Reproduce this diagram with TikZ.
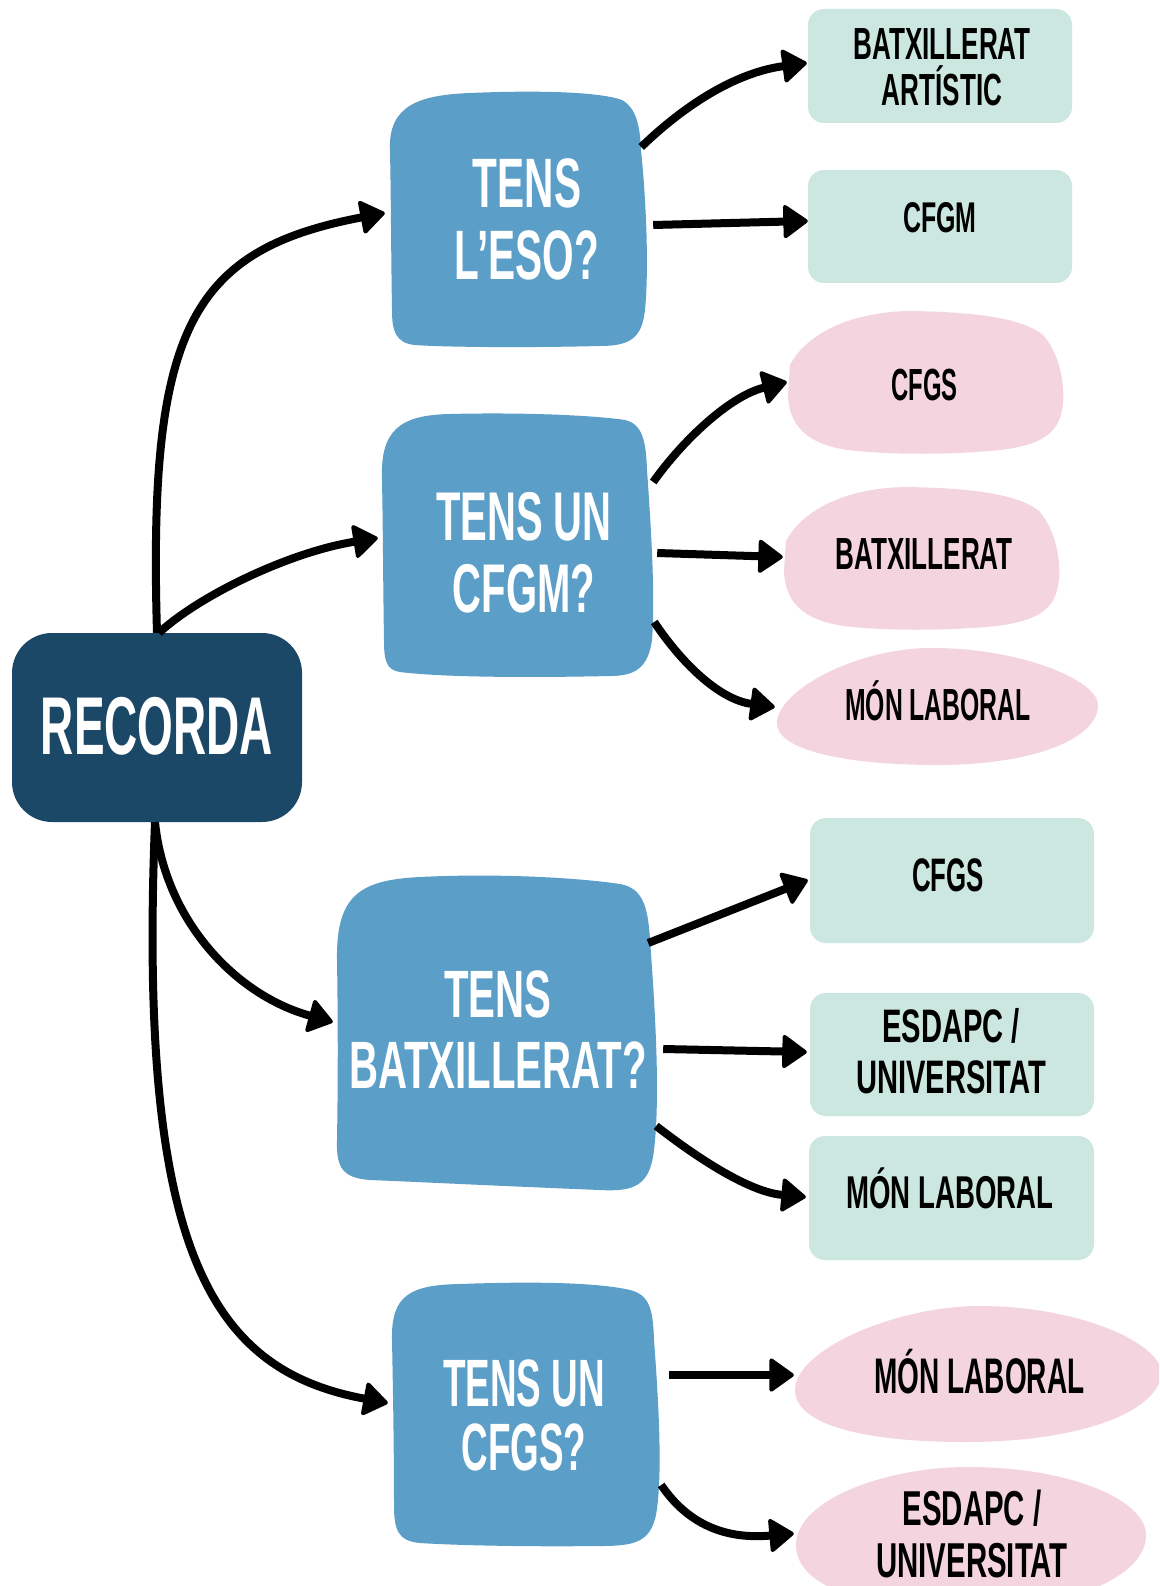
\documentclass[tikz,border=0pt]{standalone}
\usepackage{fontspec}
\newfontfamily\fA[FakeStretch=0.53]{Liberation Sans}
\newfontfamily\fB[FakeStretch=0.55]{Liberation Sans}
\newfontfamily\fC[FakeStretch=0.56]{Liberation Sans}
\newfontfamily\fD[FakeStretch=0.58]{Liberation Sans}
\newfontfamily\fE[FakeStretch=0.60]{Liberation Sans}
\newfontfamily\fF[FakeStretch=0.62]{Liberation Sans}
\usetikzlibrary{arrows.meta,calc}
\definecolor{navy}{HTML}{1C4868}
\definecolor{qblue}{HTML}{5B9EC8}
\definecolor{mint}{HTML}{CCE7E0}
\definecolor{rose}{HTML}{F4D4DF}
\newcommand\bfz[3]{#1\bfseries\fontsize{#2}{#3}\selectfont}
\begin{document}
\begin{tikzpicture}[x=1pt,y=-1pt,
  boxn/.style={draw=none, inner sep=0pt, align=center},
  arr/.style={line width=8pt, -{Triangle[round,length=26pt,width=36pt,line width=4pt]}},
]
\clip (0,0) rectangle (1159,1586);
\fill[white] (0,0) rectangle (1159,1586);

% ---------- shapes ----------
\fill[navy, rounded corners=40pt] (12,633) rectangle (302,822);
\fill[qblue] (390,150) .. controls (388,105) and (420,95) .. (470,93)
  .. controls (540,90) and (600,92) .. (622,100)
  .. controls (636,108) and (640,125) .. (641,150)
  .. controls (648,220) and (648,280) .. (645,310)
  .. controls (642,338) and (630,346) .. (600,346)
  .. controls (520,348) and (440,347) .. (415,345)
  .. controls (395,343) and (392,330) .. (392,310)
  .. controls (391,250) and (391,200) .. (390,150) -- cycle;
\fill[qblue] (382,480) .. controls (380,430) and (400,415) .. (450,414)
  .. controls (530,412) and (600,416) .. (625,420)
  .. controls (642,424) and (646,440) .. (647,470)
  .. controls (652,540) and (655,600) .. (652,640)
  .. controls (648,668) and (635,676) .. (610,676)
  .. controls (520,678) and (440,677) .. (400,672)
  .. controls (386,670) and (384,660) .. (384,640)
  .. controls (383,580) and (383,530) .. (382,480) -- cycle;
\fill[qblue] (337,960) .. controls (336,895) and (360,880) .. (420,877)
  .. controls (500,873) and (580,878) .. (620,884)
  .. controls (642,888) and (648,905) .. (650,940)
  .. controls (656,1020) and (660,1100) .. (654,1150)
  .. controls (650,1185) and (635,1192) .. (600,1190)
  .. controls (500,1186) and (420,1182) .. (370,1180)
  .. controls (343,1178) and (336,1168) .. (337,1140)
  .. controls (338,1080) and (338,1020) .. (337,960) -- cycle;
\fill[qblue] (392,1340) .. controls (391,1295) and (410,1285) .. (460,1284)
  .. controls (540,1281) and (600,1283) .. (630,1290)
  .. controls (650,1295) and (653,1310) .. (654,1340)
  .. controls (660,1420) and (662,1480) .. (656,1515)
  .. controls (650,1542) and (635,1546) .. (600,1546)
  .. controls (520,1547) and (450,1545) .. (420,1543)
  .. controls (398,1541) and (394,1530) .. (394,1505)
  .. controls (394,1450) and (393,1390) .. (392,1340) -- cycle;
% green boxes
\fill[mint, rounded corners=16pt] (808,9) rectangle (1072,123);
\fill[mint, rounded corners=16pt] (808,170) rectangle (1072,283);
\fill[mint, rounded corners=16pt] (810,818) rectangle (1094,943);
\fill[mint, rounded corners=16pt] (810,993) rectangle (1094,1116);
\fill[mint, rounded corners=16pt] (809,1136) rectangle (1094,1260);
% pink blobs
\fill[rose] (790,365) .. controls (806,335) and (848,312) .. (910,311)
  .. controls (975,312) and (1022,318) .. (1043,335)
  .. controls (1061,355) and (1066,390) .. (1062,410)
  .. controls (1058,432) and (1043,445) .. (1000,450)
  .. controls (950,455) and (890,455) .. (848,450)
  .. controls (806,444) and (789,425) .. (788,395) -- cycle;
\begin{scope}[shift={(-4,176)}]
\fill[rose] (790,365) .. controls (806,335) and (848,312) .. (910,311)
  .. controls (975,312) and (1022,318) .. (1043,335)
  .. controls (1061,355) and (1066,390) .. (1062,410)
  .. controls (1058,432) and (1043,445) .. (1000,450)
  .. controls (950,455) and (890,455) .. (848,450)
  .. controls (806,444) and (789,425) .. (788,395) -- cycle;
\end{scope}
\fill[rose] (777,722) .. controls (779,690) and (856,648) .. (932,648)
  .. controls (1020,648) and (1098,680) .. (1098,705)
  .. controls (1098,740) and (1030,765) .. (937,765)
  .. controls (845,765) and (775,750) .. (777,722) -- cycle;
\fill[rose] (795,1390) .. controls (795,1350) and (895,1306) .. (980,1306)
  .. controls (1065,1306) and (1150,1335) .. (1162,1370)
  .. controls (1162,1410) and (1085,1442) .. (965,1442)
  .. controls (865,1442) and (795,1425) .. (795,1390) -- cycle;
\fill[rose] (796,1545) .. controls (796,1500) and (885,1467) .. (968,1467)
  .. controls (1070,1467) and (1146,1500) .. (1146,1535)
  .. controls (1146,1580) and (1060,1610) .. (968,1610)
  .. controls (875,1610) and (796,1590) .. (796,1545) -- cycle;

% ---------- nodes ----------
\node[boxn, minimum width=290pt, minimum height=189pt, text=white,
  font=\bfz{\fC}{82}{84}, text height=59pt, text depth=6pt] (rec) at (157,727.5) {RECORDA};

\node[boxn, minimum width=274pt, minimum height=255pt, text=white,
  font=\bfz{\fD}{70}{72}] (eso) at (527,219.5) {TENS\\L’ESO?};
\node[boxn, minimum width=284pt, minimum height=280pt, text=white,
  font=\bfz{\fD}{69}{72}] (cfgmq) at (524,553) {TENS UN\\CFGM?};
\node[boxn, minimum width=322pt, minimum height=317pt, text=white,
  font=\bfz{\fE}{67}{71}] (batq) at (498,1030) {TENS\\BATXILLERAT?};
\node[boxn, minimum width=270pt, minimum height=265pt, text=white,
  font=\bfz{\fB}{67}{64}] (cfgsq) at (524,1415) {TENS UN\\CFGS?};

\node[boxn, minimum width=268pt, minimum height=114pt,
  font=\bfz{\fD}{45}{46}] (ga) at (942,67) {BATXILLERAT\\ARTÍSTIC};
\node[boxn, minimum width=264pt, minimum height=113pt,
  font=\bfz{\fD}{43}{44}, text height=31pt, text depth=19pt] (gb) at (940,226.5) {CFGM};
\node[boxn, minimum width=276pt, minimum height=125pt,
  font=\bfz{\fB}{47}{48}, text height=33pt, text depth=0pt] (gc) at (948,875) {CFGS};
\node[boxn, minimum width=282pt, minimum height=123pt,
  font=\bfz{\fF}{47}{51}] (gd) at (951,1051) {ESDAPC /\\UNIVERSITAT};
\node[boxn, minimum width=282pt, minimum height=124pt,
  font=\bfz{\fE}{46}{48}, text height=33pt, text depth=0pt] (ge) at (950,1191.5) {MÓN LABORAL};

\node[boxn, minimum width=273pt, minimum height=142pt,
  font=\bfz{\fA}{45}{46}, text height=32pt, text depth=0pt] (pa) at (924.5,384) {CFGS};
\node[boxn, minimum width=280pt, minimum height=142pt,
  font=\bfz{\fD}{45}{46}, text height=32pt, text depth=0pt] (pb) at (924,553) {BATXILLERAT};
\node[boxn, minimum width=322pt, minimum height=117pt,
  font=\bfz{\fB}{45}{46}, text height=32pt, text depth=0pt] (pc) at (938,704) {MÓN LABORAL};
\node[boxn, minimum width=369pt, minimum height=136pt,
  font=\bfz{\fC}{50}{52}, text height=36pt, text depth=0pt] (pd) at (979.5,1375) {MÓN LABORAL};
\node[boxn, minimum width=352pt, minimum height=132pt,
  font=\bfz{\fE}{49}{52}] (pe) at (972,1533.5) {ESDAPC /\\UNIVERSITAT};

% ---------- connectors ----------
\draw[arr] (rec.north) .. controls (148,330) and (190,250) .. ($(eso.west)+(-5,-6.5)$);
\draw[arr] ($(rec.north)+(2,0)$) .. controls (200,595) and (290,552) .. ($(cfgmq.west)+(-4,-15)$);
\draw[arr] ($(rec.south)+(-2,0)$) .. controls (165,920) and (235,995) .. ($(batq.west)+(-4,-8)$);
\draw[arr] ($(rec.south)+(-2,0)$) .. controls (138,1250) and (210,1370) .. ($(cfgsq.west)+(-1,-12)$);

\draw[arr] ($(eso.east)+(-23,-72.5)$) .. controls (690,100) and (740,72) .. ($(ga.west)+(-1,-4)$);
\draw[arr] ($(eso.east)+(-11,5.5)$) -- ($(gb.west)+(0,-5.5)$);

\draw[arr] ($(cfgmq.east)+(-13,-71)$) .. controls (683,440) and (730,396) .. ($(pa.west)+(-1,-2)$);
\draw[arr] ($(cfgmq.east)+(-9,0)$) -- ($(pb.west)+(-1,4)$);
\draw[arr] ($(cfgmq.east)+(-12,69)$) .. controls (685,668) and (722,700) .. ($(pc.west)+(-2,3)$);

\draw[arr] ($(batq.east)+(-11,-87)$) -- ($(gc.west)+(-2,5)$);
\draw[arr] ($(batq.east)+(4,19)$) -- ($(gd.west)+(-3,1)$);
\draw[arr] ($(batq.east)+(-3,96)$) .. controls (700,1160) and (750,1192) .. ($(ge.west)+(-3,5.5)$);

\draw[arr] ($(cfgsq.east)+(10,-40)$) -- ($(pd.west)+(-1,0)$);
\draw[arr] ($(cfgsq.east)+(2,70)$) .. controls (685,1520) and (720,1540) .. ($(pe.west)+(-2,0)$);
\end{tikzpicture}
\end{document}
